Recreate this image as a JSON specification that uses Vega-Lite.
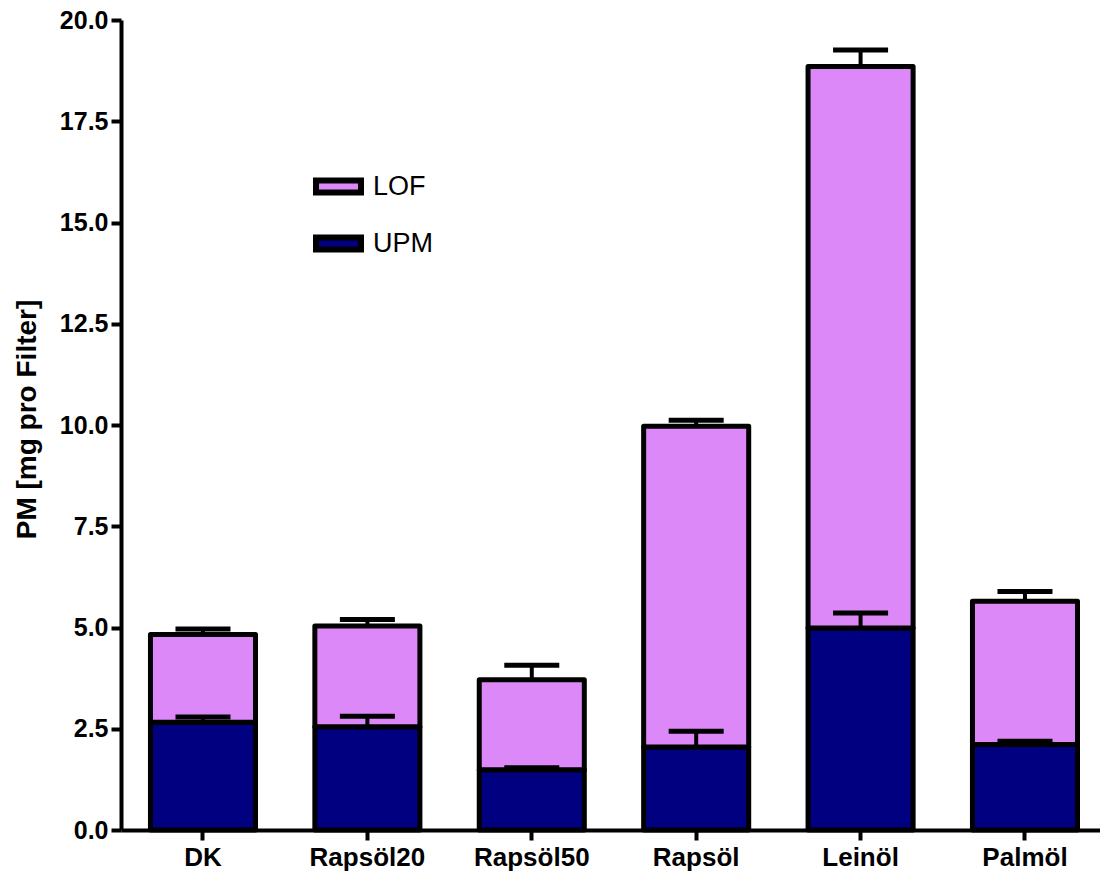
{
  "$schema": "https://vega.github.io/schema/vega-lite/v6.json",
  "autosize": "none",
  "width": 979,
  "height": 810,
  "padding": {"left": 121, "top": 20, "right": 0, "bottom": 42},
  "background": "white",
  "config": {
    "view": {"stroke": null},
    "font": "Liberation Sans"
  },
  "data": {
    "values": [
      {"cat": "DK", "series": "UPM", "lo": 0, "hi": 2.66, "err": 2.79},
      {"cat": "DK", "series": "LOF", "lo": 2.66, "hi": 4.83, "err": 4.96},
      {"cat": "Rapsöl20", "series": "UPM", "lo": 0, "hi": 2.55, "err": 2.81},
      {"cat": "Rapsöl20", "series": "LOF", "lo": 2.55, "hi": 5.04, "err": 5.2},
      {"cat": "Rapsöl50", "series": "UPM", "lo": 0, "hi": 1.49, "err": 1.54},
      {"cat": "Rapsöl50", "series": "LOF", "lo": 1.49, "hi": 3.71, "err": 4.07},
      {"cat": "Rapsöl", "series": "UPM", "lo": 0, "hi": 2.05, "err": 2.44},
      {"cat": "Rapsöl", "series": "LOF", "lo": 2.05, "hi": 9.97, "err": 10.12},
      {"cat": "Leinöl", "series": "UPM", "lo": 0, "hi": 4.99, "err": 5.36},
      {"cat": "Leinöl", "series": "LOF", "lo": 4.99, "hi": 18.85, "err": 19.26},
      {"cat": "Palmöl", "series": "UPM", "lo": 0, "hi": 2.11, "err": 2.19},
      {"cat": "Palmöl", "series": "LOF", "lo": 2.11, "hi": 5.65, "err": 5.89}
    ]
  },
  "encoding": {
    "x": {
      "field": "cat",
      "type": "nominal",
      "sort": ["DK", "Rapsöl20", "Rapsöl50", "Rapsöl", "Leinöl", "Palmöl"],
      "scale": {"paddingInner": 0.361, "paddingOuter": 0.158, "align": 0.567},
      "axis": {
        "title": null,
        "labelAngle": 0,
        "labelFont": "Liberation Sans",
        "labelFontWeight": "bold",
        "labelFontSize": 26,
        "labelColor": "black",
        "labelPadding": 4,
        "tickSize": 10,
        "tickWidth": 4,
        "tickColor": "black",
        "domainColor": "black",
        "domainWidth": 4,
        "grid": false
      }
    }
  },
  "layer": [
    {
      "mark": {"type": "bar", "stroke": "black", "strokeWidth": 5, "strokeJoin": "round", "opacity": 1},
      "encoding": {
        "y": {
          "field": "hi",
          "type": "quantitative",
          "scale": {"domain": [0, 20], "nice": false},
          "axis": {
            "title": "PM [mg pro Filter]",
            "titleFont": "Liberation Sans",
            "titleFontWeight": "bold",
            "titleFontSize": 28,
            "titleColor": "black",
            "titleX": -94,
            "titleY": 399,
            "titleAngle": -90,
            "titleBaseline": "middle",
            "titleAlign": "center",
            "values": [0, 2.5, 5, 7.5, 10, 12.5, 15, 17.5, 20],
            "format": ".1f",
            "labelFont": "Liberation Sans",
            "labelFontWeight": "bold",
            "labelFontSize": 25,
            "labelColor": "black",
            "labelPadding": 3,
            "tickSize": 10,
            "tickWidth": 4,
            "tickColor": "black",
            "domainColor": "black",
            "domainWidth": 4,
            "grid": false
          }
        },
        "y2": {"field": "lo"},
        "color": {
          "field": "series",
          "type": "nominal",
          "scale": {"domain": ["LOF", "UPM"], "range": ["#DD88F8", "#000080"]},
          "legend": {
            "title": null,
            "orient": "none",
            "legendX": 192,
            "legendY": 141,
            "padding": 0,
            "symbolType": "M-1,-0.267H1V0.267H-1Z",
            "symbolSize": 2025,
            "symbolStrokeColor": "black",
            "symbolStrokeWidth": 6,
            "symbolOpacity": 1,
            "labelFont": "Liberation Sans",
            "labelFontSize": 27,
            "labelColor": "black",
            "labelOffset": 9,
            "rowPadding": 13
          }
        }
      }
    },
    {
      "mark": {"type": "rule", "color": "black", "strokeWidth": 4, "opacity": 1},
      "encoding": {
        "y": {"field": "hi", "type": "quantitative"},
        "y2": {"field": "err"}
      }
    },
    {
      "mark": {"type": "tick", "color": "black", "thickness": 5, "size": 55, "orient": "horizontal", "opacity": 1},
      "encoding": {
        "y": {"field": "err", "type": "quantitative"}
      }
    }
  ]
}
